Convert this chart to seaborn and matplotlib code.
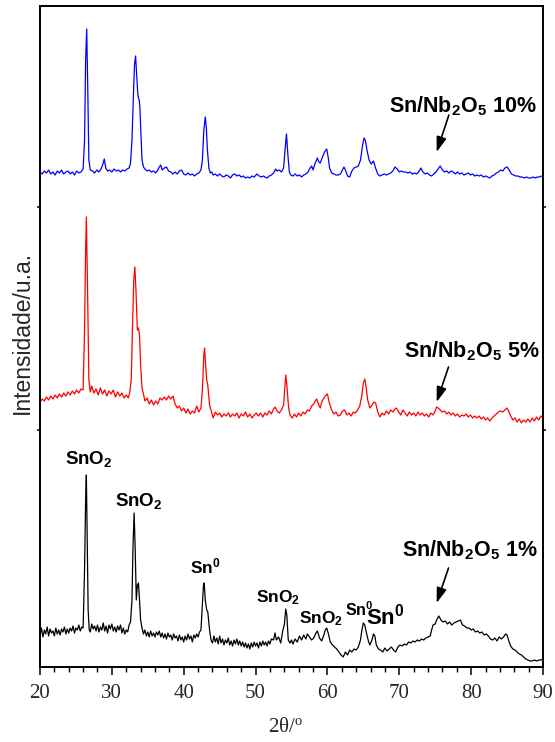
import numpy as np
import pandas as pd
import matplotlib
matplotlib.use("Agg")
import matplotlib.pyplot as plt
import seaborn as sns

# ---------------- data (2theta in degrees, intensity in a.u., stacked) ----------------
x_10 = [20.0, 20.3, 20.6, 20.9, 21.2, 21.5, 21.8, 22.1, 22.4, 22.7, 23.0, 23.3, 23.6, 23.9, 24.2, 24.5, 24.8, 25.1, 25.4, 25.7,
        26.0, 26.2, 26.35, 26.5, 26.65, 26.8, 27.0, 27.3, 27.6, 27.9, 28.2, 28.5, 28.75, 28.95, 29.15, 29.4, 29.7, 30.0, 30.3, 30.6,
        30.9, 31.2, 31.5, 31.8, 32.1, 32.4, 32.6, 32.8, 33.0, 33.15, 33.3, 33.45, 33.6, 33.7, 33.8, 33.9, 34.05, 34.2, 34.4, 34.6,
        34.9, 35.2, 35.5, 35.8, 36.1, 36.4, 36.6, 36.8, 37.0, 37.3, 37.6, 37.9, 38.2, 38.5, 38.8, 39.1, 39.4, 39.7, 40.0, 40.3,
        40.6, 40.9, 41.2, 41.5, 41.8, 42.1, 42.4, 42.6, 42.8, 43.0, 43.15, 43.3, 43.5, 43.7, 43.9, 44.1, 44.4, 44.7, 45.0, 45.3,
        45.6, 45.9, 46.2, 46.5, 46.8, 47.1, 47.4, 47.7, 48.0, 48.3, 48.6, 48.9, 49.2, 49.5, 49.8, 50.2, 50.5, 50.8, 51.1, 51.3,
        51.6, 51.9, 52.2, 52.5, 52.8, 53.0, 53.3, 53.6, 53.9, 54.1, 54.3, 54.5, 54.7, 54.9, 55.2, 55.5, 55.8, 56.1, 56.4, 56.7,
        57.0, 57.3, 57.6, 57.8, 58.0, 58.3, 58.6, 58.8, 59.0, 59.3, 59.6, 59.9, 60.1, 60.3, 60.6, 60.9, 61.2, 61.5, 61.8, 62.1,
        62.3, 62.5, 62.8, 63.1, 63.4, 63.7, 64.0, 64.3, 64.6, 64.9, 65.1, 65.3, 65.5, 65.8, 66.1, 66.4, 66.7, 67.0, 67.3, 67.6,
        67.9, 68.2, 68.5, 68.8, 69.1, 69.4, 69.7, 70.0, 70.3, 70.6, 70.9, 71.2, 71.5, 71.8, 72.1, 72.4, 72.7, 73.0, 73.3, 73.6,
        73.9, 74.2, 74.5, 74.8, 75.1, 75.4, 75.7, 76.0, 76.3, 76.6, 76.9, 77.2, 77.5, 77.8, 78.1, 78.4, 78.7, 79.0, 79.3, 79.6,
        79.9, 80.2, 80.5, 80.8, 81.1, 81.4, 81.7, 82.0, 82.3, 82.6, 82.9, 83.2, 83.5, 83.8, 84.1, 84.4, 84.7, 85.0, 85.3, 85.6,
        85.9, 86.2, 86.5, 86.8, 87.1, 87.4, 87.7, 88.0, 88.3, 88.6, 88.9, 89.2, 89.5, 89.8, 90.0]
y_10 = [495, 493, 496, 494, 497, 493, 495, 492, 496, 494, 497, 493, 495, 496, 493, 495, 492, 496, 494, 495,
        498, 527, 607, 638, 577, 507, 497, 496, 494, 497, 495, 498, 503, 508, 499, 496, 497, 495, 498, 496,
        497, 495, 497, 496, 498, 499, 504, 527, 572, 602, 611, 592, 574, 569, 567, 560, 532, 507, 500, 498,
        496, 497, 495, 496, 494, 497, 500, 502, 497, 499, 500, 496, 495, 493, 495, 493, 496, 497, 493, 492,
        494, 492, 493, 491, 493, 494, 497, 507, 537, 550, 539, 517, 499, 494, 495, 492, 493, 491, 493, 491,
        490, 492, 491, 489, 492, 493, 491, 492, 490, 491, 489, 490, 489, 491, 490, 493, 491, 490, 491, 490,
        489, 491, 492, 494, 498, 496, 497, 495, 499, 517, 533, 512, 495, 492, 491, 493, 491, 492, 490, 492,
        493, 495, 499, 501, 497, 504, 509, 505, 504, 510, 515, 518, 510, 499, 494, 493, 492, 492, 493, 497,
        500, 497, 491, 490, 496, 499, 500, 501, 507, 522, 529, 526, 517, 507, 503, 506, 499, 493, 491, 492,
        493, 492, 493, 494, 496, 500, 498, 495, 496, 495, 495, 494, 495, 493, 494, 493, 495, 499, 495, 493,
        494, 492, 491, 493, 495, 498, 501, 497, 495, 496, 494, 496, 495, 493, 495, 493, 494, 492, 493, 494,
        492, 493, 491, 492, 491, 492, 490, 491, 490, 489, 491, 492, 494, 495, 497, 496, 499, 500, 497, 493,
        492, 491, 491, 490, 490, 489, 490, 489, 489, 490, 489, 490, 490, 491, 490]

x_5 = [20.0, 20.3, 20.6, 20.9, 21.2, 21.5, 21.8, 22.1, 22.4, 22.7, 23.0, 23.3, 23.6, 23.9, 24.2, 24.5, 24.8, 25.1, 25.4, 25.7,
       26.0, 26.2, 26.35, 26.45, 26.6, 26.8, 27.0, 27.2, 27.5, 27.8, 28.1, 28.4, 28.7, 29.0, 29.3, 29.6, 29.9, 30.2, 30.5, 30.8,
       31.1, 31.4, 31.7, 32.0, 32.3, 32.5, 32.7, 32.9, 33.05, 33.2, 33.35, 33.55, 33.7, 33.85, 34.0, 34.2, 34.4, 34.6, 34.9, 35.2,
       35.5, 35.8, 36.1, 36.4, 36.7, 37.0, 37.3, 37.6, 37.9, 38.2, 38.5, 38.8, 39.1, 39.4, 39.7, 40.0, 40.3, 40.6, 40.9, 41.2,
       41.5, 41.8, 42.1, 42.4, 42.6, 42.8, 42.9, 43.05, 43.2, 43.35, 43.6, 43.9, 44.1, 44.4, 44.7, 45.0, 45.3, 45.6, 45.9, 46.2,
       46.5, 46.8, 47.1, 47.4, 47.7, 48.0, 48.3, 48.6, 48.9, 49.2, 49.5, 49.8, 50.1, 50.4, 50.7, 51.0, 51.3, 51.6, 51.9, 52.2,
       52.5, 52.7, 53.0, 53.3, 53.6, 53.9, 54.05, 54.2, 54.35, 54.6, 54.8, 55.1, 55.4, 55.7, 56.0, 56.3, 56.6, 56.9, 57.2, 57.5,
       57.8, 58.1, 58.3, 58.5, 58.8, 59.0, 59.2, 59.5, 59.8, 60.0, 60.3, 60.6, 60.9, 61.2, 61.5, 61.8, 62.1, 62.4, 62.7, 63.0,
       63.3, 63.6, 63.9, 64.2, 64.5, 64.8, 65.0, 65.2, 65.4, 65.6, 65.9, 66.2, 66.5, 66.7, 67.0, 67.3, 67.6, 67.9, 68.2, 68.5,
       68.8, 69.1, 69.4, 69.6, 69.9, 70.2, 70.5, 70.8, 71.1, 71.4, 71.7, 72.0, 72.3, 72.6, 72.9, 73.2, 73.5, 73.8, 74.1, 74.4,
       74.7, 75.0, 75.2, 75.4, 75.7, 76.0, 76.3, 76.6, 76.9, 77.2, 77.5, 77.8, 78.1, 78.4, 78.7, 79.0, 79.3, 79.6, 79.9, 80.2,
       80.5, 80.8, 81.1, 81.4, 81.7, 82.0, 82.3, 82.6, 82.9, 83.2, 83.5, 83.8, 84.1, 84.4, 84.7, 85.0, 85.2, 85.5, 85.8, 86.1,
       86.4, 86.7, 87.0, 87.3, 87.6, 87.9, 88.2, 88.5, 88.8, 89.1, 89.4, 89.7, 90.0]
y_5 = [265, 268, 266, 270, 267, 271, 268, 272, 269, 273, 270, 274, 271, 275, 272, 276, 273, 277, 274, 278,
       277, 337, 417, 450, 387, 287, 275, 281, 274, 278, 272, 279, 273, 277, 271, 276, 273, 277, 270, 275,
       271, 274, 269, 272, 269, 275, 287, 347, 387, 400, 377, 337, 339, 332, 302, 279, 273, 266, 269, 263,
       267, 262, 266, 263, 269, 267, 270, 267, 271, 268, 271, 263, 259, 261, 256, 259, 254, 258, 253, 256,
       254, 261, 255, 259, 277, 312, 319, 302, 287, 282, 262, 254, 249, 255, 252, 254, 250, 253, 251, 254,
       250, 253, 251, 254, 249, 253, 251, 255, 250, 253, 249, 252, 254, 251, 254, 250, 254, 252, 256, 253,
       258, 260, 256, 254, 257, 262, 277, 292, 282, 259, 252, 249, 253, 250, 254, 251, 255, 253, 257, 256,
       261, 263, 266, 268, 262, 259, 265, 269, 272, 273, 263, 257, 253, 255, 251, 252, 256, 257, 252, 254,
       251, 255, 254, 257, 261, 272, 284, 288, 279, 267, 259, 262, 265, 264, 255, 250, 254, 252, 256, 253,
       257, 255, 258, 259, 255, 252, 257, 254, 251, 255, 252, 254, 251, 255, 252, 254, 251, 253, 250, 254,
       252, 256, 260, 259, 257, 255, 256, 253, 255, 252, 254, 251, 253, 250, 252, 251, 253, 250, 252, 249,
       251, 249, 251, 248, 250, 247, 249, 246, 249, 251, 253, 255, 256, 255, 257, 259, 256, 251, 247, 249,
       245, 248, 244, 247, 245, 248, 245, 249, 246, 250, 247, 251, 249]

x_1 = [20.0, 20.2, 20.4, 20.6, 20.8, 21.0, 21.2, 21.4, 21.6, 21.8, 22.0, 22.2, 22.4, 22.6, 22.8, 23.0, 23.2, 23.4, 23.6, 23.8,
       24.0, 24.2, 24.4, 24.6, 24.8, 25.0, 25.2, 25.4, 25.6, 25.8, 26.0, 26.2, 26.35, 26.45, 26.55, 26.7, 26.85, 27.0, 27.2, 27.4,
       27.6, 27.8, 28.0, 28.2, 28.4, 28.6, 28.8, 29.0, 29.2, 29.4, 29.6, 29.8, 30.0, 30.2, 30.4, 30.6, 30.8, 31.0, 31.2, 31.4,
       31.6, 31.8, 32.0, 32.2, 32.4, 32.6, 32.8, 32.95, 33.1, 33.25, 33.4, 33.55, 33.7, 33.85, 34.0, 34.2, 34.4, 34.6, 34.8, 35.0,
       35.2, 35.4, 35.6, 35.8, 36.0, 36.2, 36.4, 36.6, 36.8, 37.0, 37.2, 37.4, 37.6, 37.8, 38.0, 38.2, 38.4, 38.6, 38.8, 39.0,
       39.2, 39.4, 39.6, 39.8, 40.0, 40.2, 40.4, 40.6, 40.8, 41.0, 41.2, 41.4, 41.6, 41.8, 42.0, 42.2, 42.4, 42.6, 42.75, 42.85,
       43.0, 43.2, 43.35, 43.6, 43.8, 44.0, 44.2, 44.4, 44.6, 44.8, 45.0, 45.2, 45.4, 45.6, 45.8, 46.0, 46.2, 46.4, 46.6, 46.8,
       47.0, 47.2, 47.4, 47.6, 47.8, 48.0, 48.2, 48.4, 48.6, 48.8, 49.0, 49.2, 49.4, 49.6, 49.8, 50.0, 50.2, 50.4, 50.6, 50.8,
       51.0, 51.2, 51.4, 51.6, 51.8, 52.0, 52.2, 52.5, 52.7, 52.9, 53.2, 53.5, 53.8, 54.0, 54.2, 54.35, 54.55, 54.8, 55.0, 55.2,
       55.5, 55.8, 56.1, 56.4, 56.7, 57.0, 57.2, 57.5, 57.8, 58.1, 58.4, 58.6, 58.9, 59.2, 59.5, 59.7, 59.9, 60.1, 60.4, 60.7,
       61.0, 61.3, 61.6, 61.9, 62.2, 62.5, 62.8, 63.1, 63.4, 63.7, 64.0, 64.3, 64.6, 64.8, 65.0, 65.2, 65.4, 65.7, 65.9, 66.2,
       66.4, 66.6, 66.8, 67.1, 67.4, 67.7, 68.0, 68.3, 68.6, 68.9, 69.2, 69.5, 69.8, 70.1, 70.4, 70.7, 71.0, 71.3, 71.6, 71.9,
       72.2, 72.5, 72.8, 73.1, 73.4, 73.7, 74.0, 74.3, 74.5, 74.7, 75.0, 75.2, 75.5, 75.8, 76.1, 76.4, 76.7, 77.0, 77.3, 77.6,
       77.9, 78.2, 78.5, 78.8, 79.1, 79.4, 79.7, 80.0, 80.3, 80.6, 80.9, 81.2, 81.5, 81.8, 82.1, 82.4, 82.7, 83.0, 83.3, 83.6,
       83.9, 84.2, 84.5, 84.8, 85.0, 85.2, 85.5, 85.8, 86.1, 86.4, 86.7, 87.0, 87.3, 87.6, 87.9, 88.2, 88.5, 88.8, 89.1, 89.4,
       89.7, 90.0]
y_1 = [32, 39, 30, 37, 33, 40, 31, 38, 34, 36, 31, 39, 33, 37, 32, 38, 35, 40, 33, 38,
       34, 39, 36, 41, 34, 39, 37, 42, 36, 40, 39, 97, 167, 192, 137, 57, 37, 35, 43, 38,
       41, 36, 42, 35, 40, 37, 44, 36, 41, 34, 42, 38, 43, 36, 40, 35, 41, 37, 42, 34,
       39, 33, 37, 35, 42, 45, 67, 122, 154, 117, 67, 82, 84, 67, 47, 39, 33, 37, 31, 35,
       30, 36, 31, 34, 30, 35, 32, 36, 30, 34, 29, 33, 28, 34, 30, 32, 27, 33, 29, 31,
       26, 32, 27, 30, 25, 31, 27, 33, 28, 31, 25, 32, 29, 33, 30, 35, 37, 62, 82, 84,
       67, 57, 55, 37, 27, 24, 31, 25, 29, 23, 31, 24, 28, 22, 27, 24, 29, 22, 26, 21,
       27, 23, 28, 22, 26, 21, 25, 20, 24, 19, 23, 18, 24, 20, 25, 21, 24, 19, 25, 21,
       26, 22, 25, 21, 26, 23, 28, 27, 34, 27, 30, 24, 37, 42, 58, 52, 27, 24, 27, 23,
       28, 25, 31, 27, 32, 28, 33, 30, 27, 29, 34, 36, 29, 26, 32, 37, 39, 34, 25, 22,
       20, 18, 15, 12, 10, 15, 12, 17, 15, 18, 17, 20, 27, 37, 44, 42, 35, 26, 22, 27,
       33, 31, 22, 18, 17, 15, 19, 16, 18, 20, 17, 15, 20, 22, 21, 23, 22, 25, 24, 26,
       25, 27, 26, 28, 27, 29, 30, 31, 37, 42, 43, 47, 51, 47, 45, 46, 43, 45, 42, 44,
       45, 46, 47, 42, 41, 39, 39, 37, 38, 35, 36, 34, 35, 32, 33, 31, 28, 27, 29, 26,
       30, 28, 30, 33, 32, 27, 21, 18, 17, 15, 13, 12, 10, 8, 7, 6, 6, 7, 6, 7,
       7, 8]

samples = ["Sn/Nb2O5 10%", "Sn/Nb2O5 5%", "Sn/Nb2O5 1%"]
colors = ["#0000ff", "#ff0000", "#000000"]

sample_labels = [r"Sn/Nb$_2$O$_5$ 10%", r"Sn/Nb$_2$O$_5$ 5%", r"Sn/Nb$_2$O$_5$ 1%"]
sample_label_xy = [(78.9, 555), (80.05, 310), (79.8, 111)]
arrow_tail = [(76.9, 552), (76.85, 300), (76.85, 99)]
arrow_head = [(75.2, 515), (75.2, 265), (75.2, 64)]

phase_labels = [r"SnO$_2$", r"SnO$_2$", r"Sn$^0$", r"SnO$_2$", r"SnO$_2$", r"Sn$^0$", r"Sn$^0$"]
phase_xy = [(26.77, 203), (33.68, 161), (43.07, 94), (53.17, 65), (59.08, 44), (64.4, 51), (68.12, 43)]
phase_size = [13.5, 13.5, 12.5, 12.5, 12.5, 11.5, 16]

xticks = [20, 30, 40, 50, 60, 70, 80, 90]
yticks = [237, 460]

# ---------------- figure ----------------
df = pd.concat([
    pd.DataFrame({"two_theta": x_10, "intensity": y_10, "sample": samples[0]}),
    pd.DataFrame({"two_theta": x_5, "intensity": y_5, "sample": samples[1]}),
    pd.DataFrame({"two_theta": x_1, "intensity": y_1, "sample": samples[2]}),
], ignore_index=True)

sns.set_theme(style="ticks")
plt.rcParams["font.family"] = ["Liberation Sans", "DejaVu Sans"]
plt.rcParams["mathtext.default"] = "regular"

fig = plt.figure(figsize=(5.55, 7.42), dpi=100)
ax = fig.add_axes([40 / 555, 1 - 667 / 742, 503 / 555, 661 / 742])

sns.lineplot(data=df, x="two_theta", y="intensity", hue="sample", hue_order=samples,
             palette=dict(zip(samples, colors)), estimator=None, sort=False,
             linewidth=0.9, legend=False, ax=ax)

ax.set_xlim(20, 90)
ax.set_ylim(0, 661)
ax.set_xticks(xticks)
ax.set_xticks(np.arange(20, 91, 2), minor=True)
ax.set_yticks(yticks)
ax.set_yticklabels([])

for side in ["left", "right", "top", "bottom"]:
    ax.spines[side].set_visible(True)
    ax.spines[side].set_linewidth(1.4)
    ax.spines[side].set_color("black")

ax.tick_params(axis="x", which="major", direction="out", length=5.8, width=1.1, color="black",
               labelsize=15, pad=6.5, top=False, bottom=True)
ax.tick_params(axis="x", which="minor", direction="out", length=3.6, width=1.0, color="black",
               top=False, bottom=True)
ax.tick_params(axis="y", which="major", direction="out", length=2.5, width=1.1, color="black",
               left=True, right=True)
for lab in ax.get_xticklabels():
    lab.set_fontfamily(["Liberation Serif", "DejaVu Serif"])

ax.set_xlabel("2θ/$^o$", fontsize=15, family=["Liberation Serif", "DejaVu Serif"])
ax.xaxis.label.set_va("center")
ax.xaxis.set_label_coords((286 - 40) / 503, (667 - 728) / 661)
ax.set_ylabel("Intensidade/u.a.", fontsize=16.5)
ax.yaxis.label.set_va("center")
ax.yaxis.set_label_coords((22.5 - 40) / 503, (667 - 332) / 661)

for txt, (tx, ty) in zip(sample_labels, sample_label_xy):
    ax.text(tx, ty, txt, ha="center", va="baseline", fontsize=15.5, fontweight="bold", color="black")

for (x0, y0), (x1, y1) in zip(arrow_tail, arrow_head):
    ax.annotate("", xy=(x1, y1), xytext=(x0, y0),
                arrowprops=dict(arrowstyle="-|>,head_length=0.45,head_width=0.15",
                                mutation_scale=20, lw=1.2, color="black",
                                shrinkA=0, shrinkB=0))

for txt, (tx, ty), fs in zip(phase_labels, phase_xy, phase_size):
    ax.text(tx, ty, txt, ha="center", va="baseline", fontsize=fs, fontweight="bold", color="black")

fig.savefig("out.png", dpi=100)
